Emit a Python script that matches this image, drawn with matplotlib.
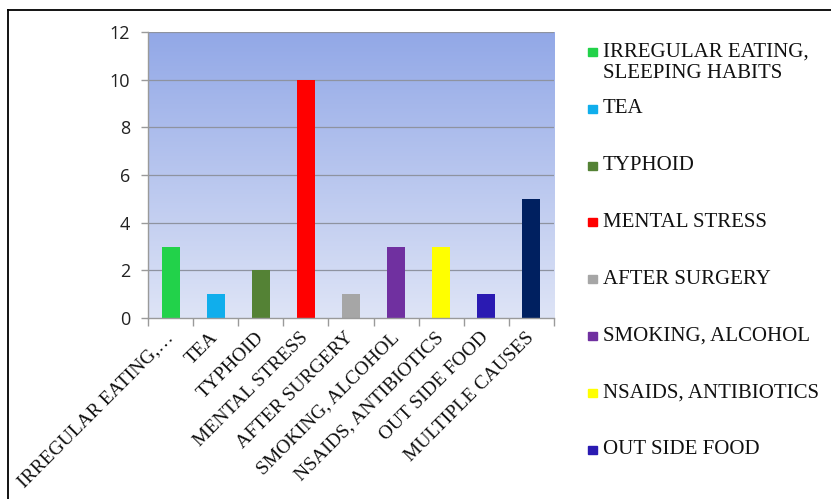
import numpy as np
import matplotlib
matplotlib.use("Agg")
import matplotlib.pyplot as plt
from matplotlib.patches import Rectangle
from matplotlib.lines import Line2D

# Causes and number of cases
causes = [
    "IRREGULAR EATING,\nSLEEPING HABITS",
    "TEA",
    "TYPHOID",
    "MENTAL STRESS",
    "AFTER SURGERY",
    "SMOKING, ALCOHOL",
    "NSAIDS, ANTIBIOTICS",
    "OUT SIDE FOOD",
    "MULTIPLE CAUSES",
]
tick_labels = [
    "IRREGULAR EATING,…",
    "TEA",
    "TYPHOID",
    "MENTAL STRESS",
    "AFTER SURGERY",
    "SMOKING, ALCOHOL",
    "NSAIDS, ANTIBIOTICS",
    "OUT SIDE FOOD",
    "MULTIPLE CAUSES",
]
cases = [3, 1, 2, 10, 1, 3, 3, 1, 5]
colors = ["#22D24A", "#10AEEC", "#548235", "#FF0000", "#A6A6A6",
          "#7030A0", "#FFFF00", "#2A1AB2", "#002060"]
y_ticks = [0, 2, 4, 6, 8, 10, 12]

W, H = 831, 499
fig = plt.figure(figsize=(W / 100, H / 100), dpi=100)
fig.patch.set_facecolor("white")

# plot area (pixel box converted to figure fractions)
x0, x1, y0, y1 = 148, 554, 32, 318
ax = fig.add_axes([x0 / W, 1 - y1 / H, (x1 - x0) / W, (y1 - y0) / H])

n = len(cases)
x = np.arange(n)
ax.set_xlim(-0.5, n - 0.5)
ax.set_ylim(0, 12)

# vertical blue gradient behind the bars
top = np.array([146, 168, 231]) / 255
bot = np.array([222, 228, 246]) / 255
t = np.linspace(0, 1, 256)[:, None]
grad = (top * t + bot * (1 - t))[:, None, :].repeat(2, axis=1)
ax.imshow(grad, extent=[-0.5, n - 0.5, 0, 12], origin="lower",
          aspect="auto", zorder=0, interpolation="bicubic")

# horizontal gridlines
for v in y_ticks[1:]:
    ax.axhline(v, color="#8E93A0", lw=0.9, zorder=1)

ax.bar(x, cases, width=0.4, color=colors, zorder=2)

# axes styling
for s in ["top", "right"]:
    ax.spines[s].set_visible(False)
for s in ["left", "bottom"]:
    ax.spines[s].set_color("#9A9A9A")
    ax.spines[s].set_linewidth(1.0)

ax.set_yticks(y_ticks)
ax.set_yticklabels([str(v) for v in y_ticks], fontsize=13,
                   family=["Open Sans", "DejaVu Sans"], color="#222222")
ax.tick_params(axis="y", direction="out", length=5, width=1,
               color="#9A9A9A", pad=8)

# category boundary tick marks and rotated labels
ax.set_xticks(np.arange(-0.5, n, 1.0), minor=True)
ax.tick_params(axis="x", which="minor", direction="out", length=6,
               width=1, color="#9A9A9A")
ax.set_xticks(x)
ax.set_xticklabels(tick_labels, rotation=45, ha="right",
                   rotation_mode="anchor", va="center",
                   fontsize=14, family="Liberation Serif", color="#111111")
ax.tick_params(axis="x", which="major", length=0, pad=12)

# legend at the right, drawn entry by entry
lx_box, lx_txt = 588, 603
ly_first, ly_step = 52, 56.8
for i, (lab, col) in enumerate(zip(causes, colors)):
    yc = ly_first + i * ly_step
    if yc > H:
        break
    fig.patches.append(Rectangle((lx_box / W, 1 - (yc + 4) / H), 9 / W, 8 / H,
                                 transform=fig.transFigure, color=col))
    first, *rest = lab.split("\n")
    fig.text(lx_txt / W, 1 - yc / H, first, fontsize=15,
             family="Liberation Serif", va="center", ha="left",
             color="#111111")
    for k, extra in enumerate(rest, start=1):
        fig.text(lx_txt / W, 1 - (yc + 21 * k) / H, extra, fontsize=15,
                 family="Liberation Serif", va="center", ha="left",
                 color="#111111")

# frame lines along the top and left edges
fig.add_artist(Line2D([8 / W, 1], [1 - 10 / H, 1 - 10 / H],
                      transform=fig.transFigure, color="black", lw=1.3))
fig.add_artist(Line2D([8 / W, 8 / W], [0, 1 - 10 / H],
                      transform=fig.transFigure, color="black", lw=1.3))

fig.savefig("out.png", dpi=100)
